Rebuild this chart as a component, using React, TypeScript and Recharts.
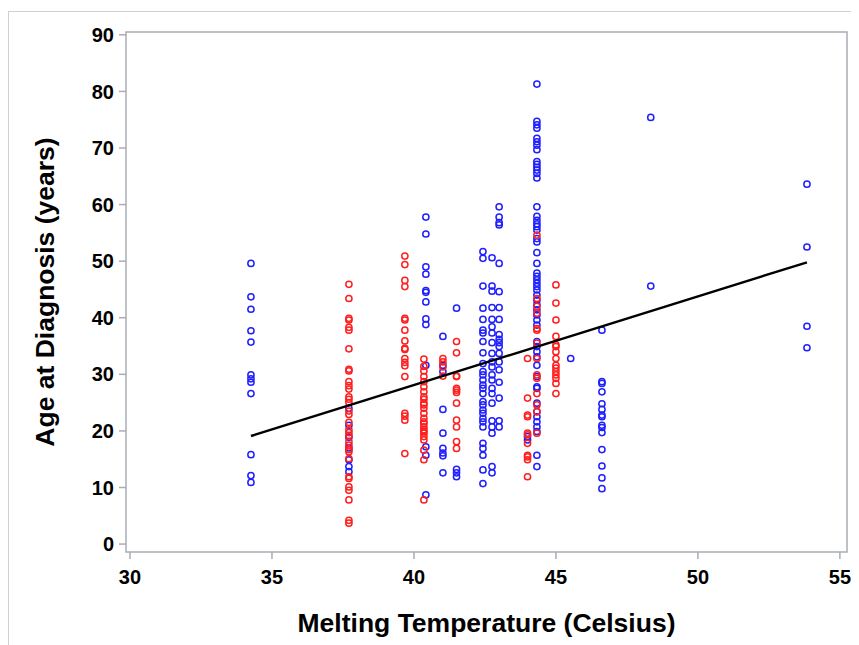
import { ScatterChart, Scatter, XAxis, YAxis, ReferenceArea } from 'recharts';

const blueTemps = [34.26, 37.71, 40.42, 41.02, 41.5, 42.43, 42.75, 43.0, 44.0, 44.33, 45.52, 46.62, 48.34, 53.84];
const blueAges: number[][] = [
  [49.6, 43.7, 41.5, 37.7, 35.7, 29.9, 29.2, 28.6, 26.6, 15.8, 12.1, 10.9],
  [24.0, 21.0, 18.9, 17.0, 14.9, 13.7, 12.8],
  [57.8, 54.8, 49.0, 47.7, 44.8, 44.5, 42.8, 39.8, 38.8, 31.6, 17.2, 15.7, 8.7],
  [36.7, 31.6, 30.5, 23.8, 19.6, 16.9, 16.1, 15.6, 12.6],
  [41.7, 13.2, 12.6, 11.9],
  [51.7, 50.5, 45.6, 41.7, 39.7, 37.8, 37.3, 35.8, 33.8, 31.9, 30.5, 29.9, 29.0, 28.1, 27.5, 26.6, 25.2, 24.6, 23.7, 23.1, 22.2, 21.6, 20.7, 17.8, 16.9, 15.7, 13.1, 10.7],
  [50.6, 45.6, 44.7, 41.8, 39.7, 38.4, 37.3, 35.6, 33.7, 32.2, 31.3, 29.9, 29.0, 27.5, 26.6, 24.9, 21.8, 20.7, 19.6, 13.7, 12.6],
  [59.6, 57.8, 56.8, 56.4, 49.6, 44.6, 41.8, 39.7, 37.0, 36.2, 35.6, 34.9, 33.7, 32.2, 30.8, 28.6, 25.8, 21.8, 20.7],
  [19.0, 18.4],
  [81.3, 74.7, 74.1, 73.5, 71.7, 71.1, 70.5, 69.7, 67.6, 67.1, 66.6, 66.1, 65.5, 64.7, 59.6, 57.9, 57.2, 56.6, 56.1, 55.5, 54.0, 53.4, 51.5, 49.6, 47.9, 47.3, 46.7, 46.1, 45.5,
    44.9, 44.0, 43.1, 42.3, 41.4, 40.5, 39.6, 38.7, 35.8, 34.9, 34.0, 33.1, 31.6, 29.6, 27.8, 27.5, 24.9, 23.4, 22.5, 21.6, 20.7, 19.9, 15.7, 13.7],
  [32.8],
  [37.8, 28.7, 28.4, 26.9, 24.8, 23.8, 22.8, 22.5, 21.0, 20.6, 19.7, 16.7, 13.8, 11.7, 9.8],
  [75.4, 45.6],
  [63.6, 52.5, 38.5, 34.7],
];

const redTemps = [37.71, 39.68, 40.35, 41.02, 41.5, 44.0, 44.33, 45.0];
const redAges: number[][] = [
  [45.9, 43.4, 39.9, 39.6, 38.3, 37.8, 34.5, 30.9, 30.6, 28.7, 28.0, 27.4, 26.0, 25.6, 25.0, 23.5, 22.9, 21.5, 20.2, 19.7, 19.2, 18.1, 17.5, 16.7, 16.3, 15.1, 11.9, 11.6, 10.1, 9.5, 7.8, 4.2, 3.7],
  [50.9, 49.4, 46.6, 45.5, 39.9, 39.6, 37.8, 35.9, 34.6, 34.4, 32.8, 32.1, 31.5, 29.6, 23.1, 22.6, 21.9, 16.0],
  [32.7, 31.4, 30.6, 29.6, 28.7, 27.8, 26.9, 26.0, 25.6, 24.9, 24.6, 24.0, 23.1, 22.2, 21.6, 21.3, 20.7, 20.2, 19.9, 19.6, 19.0, 18.4, 16.6, 14.9, 7.8],
  [32.8, 32.2, 31.3, 29.7],
  [35.8, 33.8, 29.7, 29.6, 27.5, 27.2, 26.8, 24.9, 21.9, 20.7, 18.1, 16.9],
  [32.8, 25.8, 22.8, 22.5, 19.6, 19.3, 17.8, 15.7, 15.4, 14.9, 11.9],
  [54.6, 43.4, 42.0, 40.8, 38.1, 37.8, 35.5, 32.8, 29.9, 29.3, 26.6, 24.6, 23.4, 19.6],
  [45.8, 42.6, 39.6, 36.7, 35.2, 34.9, 34.0, 32.8, 31.6, 31.1, 30.5, 29.9, 29.3, 28.4, 26.6],
];

// fitted line end points
const fitTemps = [34.26, 53.84];
const fitAges = [19.1, 49.8];

const xTicks = [30, 35, 40, 45, 50, 55];
const yTicks = [0, 10, 20, 30, 40, 50, 60, 70, 80, 90];

const X_MIN = 29.86;
const X_MAX = 55.25;
const Y_MIN = -1.4;
const Y_MAX = 90.5;

const FONT = '"Liberation Sans", Arial, sans-serif';
const FRAME = '#a9adb2';

const toPoints = (temps: number[], ages: number[][]) =>
  temps.flatMap((t, i) => ages[i].map((a) => ({ x: t, y: a })));

const bluePoints = toPoints(blueTemps, blueAges);
const redPoints = toPoints(redTemps, redAges);
const fitPoints = fitTemps.map((t, i) => ({ x: t, y: fitAges[i] }));

const ring = (color: string) => (p: any) => (
  <circle cx={p.cx} cy={p.cy} r={3.1} fill="none" stroke={color} strokeWidth={1.5} />
);

export default function App() {
  return (
    <div
      style={{
        marginTop: 3,
        width: 860,
        height: 640,
        border: '1px solid #d0d0d0',
        background: '#fff',
        overflow: 'hidden',
      }}
    >
      <ScatterChart width={850} height={633} margin={{ top: 20, right: 12, bottom: 0, left: 0 }}>
        <XAxis
          type="number"
          dataKey="x"
          domain={[X_MIN, X_MAX]}
          ticks={xTicks}
          allowDataOverflow
          height={93}
          axisLine={false}
          tickLine={{ stroke: FRAME, strokeWidth: 1.5 }}
          tickSize={7}
          tickMargin={11}
          tick={{ fill: '#000', fontSize: 20, fontWeight: 'bold', fontFamily: FONT }}
          label={{
            value: 'Melting Temperature (Celsius)',
            position: 'insideBottom',
            offset: 13,
            style: { fill: '#000', fontSize: 26.5, fontWeight: 'bold', fontFamily: FONT },
          }}
        />
        <YAxis
          type="number"
          dataKey="y"
          domain={[Y_MIN, Y_MAX]}
          ticks={yTicks}
          allowDataOverflow
          width={117}
          axisLine={false}
          tickLine={{ stroke: FRAME, strokeWidth: 1.5 }}
          tickSize={7}
          tickMargin={5}
          tick={{ fill: '#000', fontSize: 20, fontWeight: 'bold', fontFamily: FONT }}
          label={{
            value: 'Age at Diagnosis (years)',
            angle: -90,
            position: 'insideLeft',
            offset: 36,
            style: { fill: '#000', fontSize: 26.5, fontWeight: 'bold', fontFamily: FONT, textAnchor: 'middle' },
          }}
        />
        <ReferenceArea
          x1={X_MIN}
          x2={X_MAX}
          y1={Y_MIN}
          y2={Y_MAX}
          fill="none"
          stroke={FRAME}
          strokeWidth={1.5}
          ifOverflow="visible"
        />
        <Scatter data={bluePoints} shape={ring('#1f1fff')} isAnimationActive={false} />
        <Scatter data={redPoints} shape={ring('#ff1f1f')} isAnimationActive={false} />
        <Scatter
          data={fitPoints}
          line={{ stroke: '#000', strokeWidth: 2.4 }}
          shape={() => <g />}
          isAnimationActive={false}
        />
      </ScatterChart>
    </div>
  );
}
